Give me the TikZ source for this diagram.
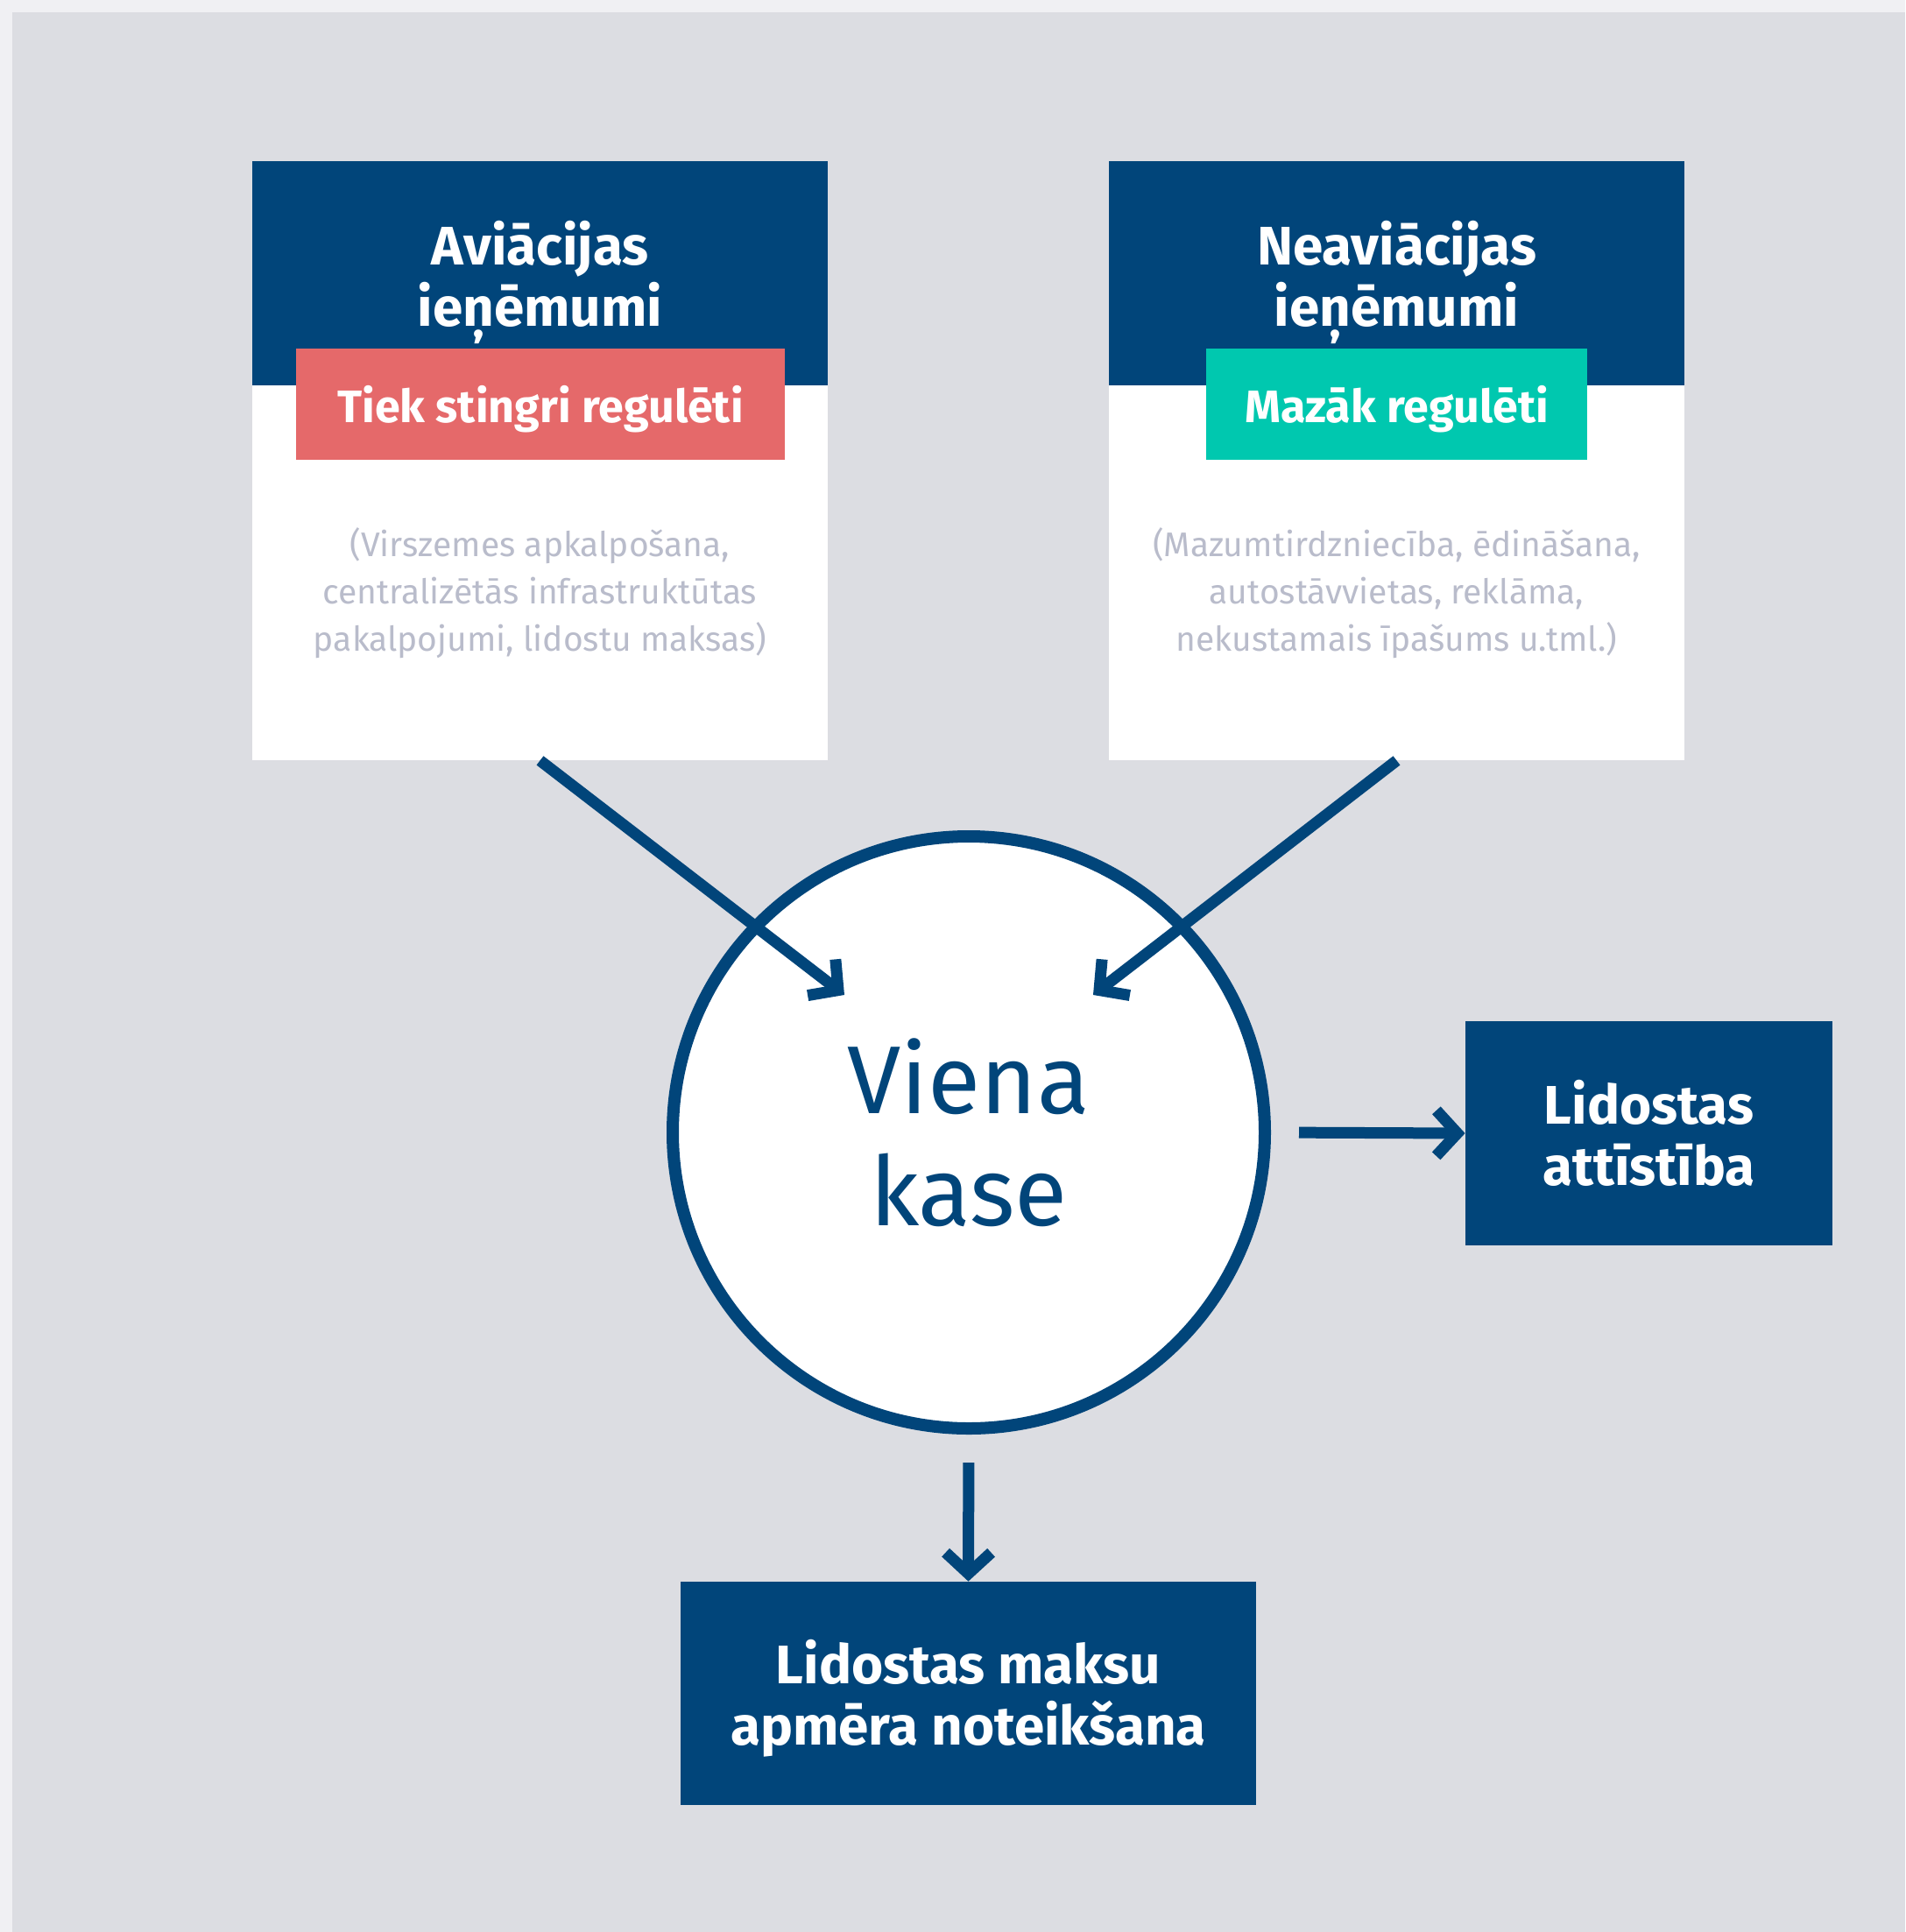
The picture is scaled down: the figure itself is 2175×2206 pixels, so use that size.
\documentclass[tikz,border=0pt]{standalone}
\usepackage{fontspec}
\setmainfont{Fira Sans}
\usetikzlibrary{arrows.meta}
\definecolor{navy}{HTML}{01457A}
\definecolor{bgray}{HTML}{DCDDE2}
\definecolor{outerc}{HTML}{F0F0F3}
\definecolor{tagred}{HTML}{E5696A}
\definecolor{tagteal}{HTML}{00C8AF}
\definecolor{descc}{HTML}{B9BCCB}
\begin{document}
\begin{tikzpicture}[x=0.5pt,y=-0.5pt,
  card/.style={rectangle, fill=white, minimum width=328.5pt, minimum height=342pt, inner sep=0pt},
  head/.style={rectangle, fill=navy, minimum width=328.5pt, minimum height=128pt, inner sep=0pt},
  title/.style={text=white, inner sep=0pt, font=\bfseries\fontsize{31}{35}\selectfont, align=center},
  tag/.style={rectangle, minimum height=63.5pt, inner sep=0pt, text=white, font=\bfseries\fontsize{26}{30}\selectfont},
  tagtext/.style={text=white, inner sep=0pt, font=\bfseries\fontsize{26}{30}\selectfont},
  desc/.style={text=descc, inner sep=0pt, font=\fontsize{19.5}{27}\selectfont, align=center},
  dark/.style={rectangle, fill=navy, text=white, inner sep=0pt, align=center, font=\bfseries\fontsize{31}{35}\selectfont},
  flow/.style={draw=navy, line width=6.5pt, -{Straight Barb[length=12pt,width=26pt,sharp]}}
]
\useasboundingbox (0,0) rectangle (2175,2206);
\fill[outerc] (0,0) rectangle (2175,2206);
\fill[bgray] (14,14) rectangle (2175,2206);

% left card
\node[card] (avi) at (616.5,526) {};
\node[head] (avihead) at (616.5,312) {};
\node[title] (avititle) at (616.5,322) {Aviācijas\\ieņēmumi};
\node[tag, fill=tagred, minimum width=279pt] (avitag) at (617,461.5) {};
\node[tagtext] (avitagtext) at (617,467) {Tiek stingri regulēti};
\node[desc] (avidesc) at (616.5,677) {(Virszemes apkalpošana,\\centralizētās infrastruktūtas\\pakalpojumi, lidostu maksas)};

% right card
\node[card] (neavi) at (1594.5,526) {};
\node[head] (neavihead) at (1594.5,312) {};
\node[title] (neavititle) at (1594.5,322) {Neaviācijas\\ieņēmumi};
\node[tag, fill=tagteal, minimum width=217.5pt] (neavitag) at (1594.5,461.5) {};
\node[tagtext] (neavitagtext) at (1594.5,467) {Mazāk regulēti};
\node[desc] (neavidesc) at (1594.5,677) {(Mazumtirdzniecība, ēdināšana,\\autostāvvietas, reklāma,\\nekustamais īpašums u.tml.)};

% central circle
\node[circle, draw=navy, line width=7pt, fill=white, minimum size=338pt, inner sep=0pt,
      text=navy, align=center, font=\fontsize{55}{64}\selectfont] (kase) at (1106,1293) {Viena\\kase};

% outputs
\node[dark, minimum width=209.5pt, minimum height=128pt] (dev) at (1882.5,1294) {Lidostas\\attīstība};
\node[dark, minimum width=328.5pt, minimum height=127.5pt] (fees) at (1105.5,1933.5) {};
\node[text=white, inner sep=0pt, align=center, font=\bfseries\fontsize{31}{35}\selectfont] (feestext) at (1105.5,1939) {Lidostas maksu\\apmēra noteikšana};

% arrow tips inside the circle
\coordinate (tipL) at (964,1136);
\coordinate (tipR) at (1248,1136);

\draw[flow] (avi.south) -- (tipL);
\draw[flow] (neavi.south) -- (tipR);
\draw[flow, shorten <=16pt] (kase.east) -- (dev.west);
\draw[flow, shorten <=16pt] (kase.south) -- (fees.north);
\end{tikzpicture}
\end{document}
